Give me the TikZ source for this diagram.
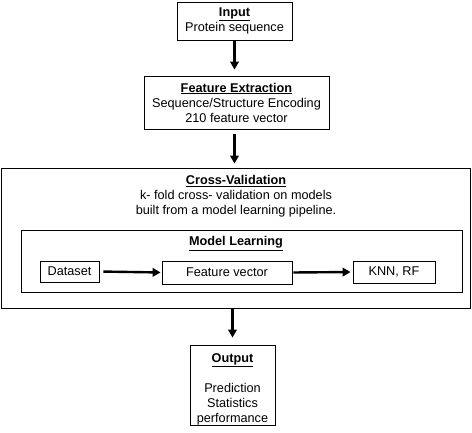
\documentclass[tikz,border=0pt]{standalone}
\usepackage{fontspec}
\setmainfont{Liberation Sans}
\usetikzlibrary{arrows.meta}
\tikzset{
  box/.style={draw, line width=0.8pt, inner sep=0pt, align=center, font=\fontsize{12.7}{15}\selectfont},
  txt/.style={inner sep=0pt, align=center, font=\fontsize{12.7}{15}\selectfont},
  flow/.style={line width=2.4pt, -{Triangle[length=8pt,width=8.5pt]}}
}
\newcommand{\hd}[1]{\underline{\textbf{#1}}}
\begin{document}
\begin{tikzpicture}[x=1pt,y=-1pt]
     \useasboundingbox (0,0) rectangle (472,432);
     \node[box, minimum width=115pt, minimum height=38pt] (input) at (234.5,21) {\hd{Input}\\Protein sequence};
     \node[box, minimum width=185pt, minimum height=53pt] (fe) at (236.5,102.5) {\hd{Feature Extraction}\\Sequence/Structure Encoding\\210 feature vector};
     \node[box, minimum width=469pt, minimum height=140pt] (cv) at (235.5,238) {};
     \node[txt] (cvtext) at (236,196) {\hd{Cross-Validation}\\k- fold cross- validation on models\\built from a model learning pipeline.};
     \node[box, minimum width=441pt, minimum height=62pt] (ml) at (241.5,261) {};
     \node[txt] (mltext) at (236,243.5) {\hd{Model Learning}};
     \node[box, minimum width=59pt, minimum height=21pt] (data) at (69.5,271.5) {Dataset};
     \node[box, minimum width=130pt, minimum height=23pt] (fv) at (227,272.5) {Feature vector};
     \node[box, minimum width=82pt, minimum height=22pt] (knn) at (394,272) {KNN, RF};
     \node[box, minimum width=85pt, minimum height=80pt] (out) at (232.5,385) {\rule{0pt}{17pt}\hd{Output}\\[15pt]Prediction\\Statistics\\performance};
     % arrows
     \draw[flow, shorten <=1pt, shorten >=6pt] (input.south) -- (input.south |- fe.north);
     \draw[flow, shorten <=5pt, shorten >=4pt] (fe.south -| input.south) -- (input.south |- cv.north);
     \draw[flow, shorten >=7pt] (cv.south -| out.north) -- (out.north);
     \draw[flow, shorten <=4pt, shorten >=1pt] (data.east) -- (fv.west);
     \draw[flow, shorten <=1pt, shorten >=2pt] (fv.east) -- (knn.west);
\end{tikzpicture}
\end{document}
